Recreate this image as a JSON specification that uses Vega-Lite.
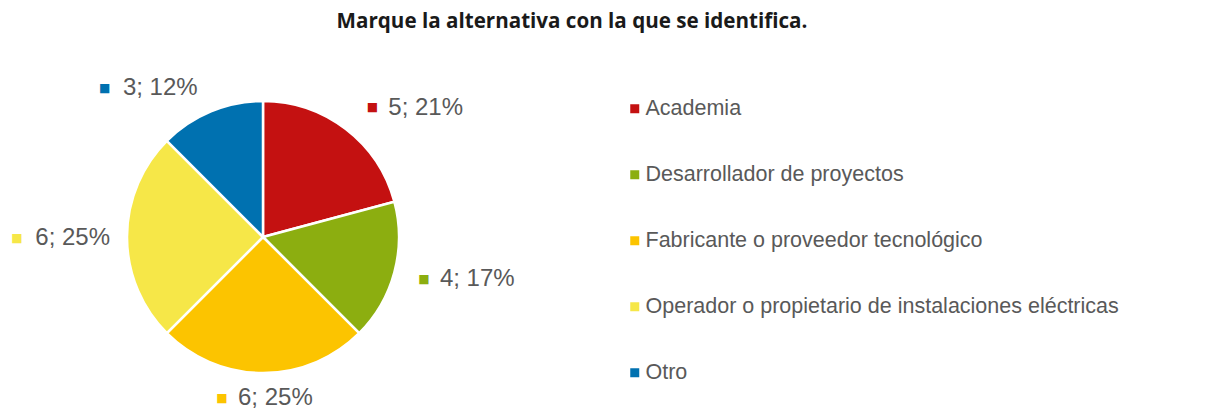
{
  "$schema": "https://vega.github.io/schema/vega-lite/v6.json",
  "autosize": "none",
  "width": 526,
  "height": 274,
  "padding": {"left": 0, "top": 100, "right": 683, "bottom": 38},
  "background": "white",
  "title": {
    "text": "Marque la alternativa con la que se identifica.",
    "font": "Open Sans",
    "fontSize": 20.6,
    "fontWeight": "bold",
    "color": "#1a1a1a",
    "anchor": "middle",
    "frame": "group",
    "baseline": "alphabetic",
    "offset": 28,
    "dx": 309
  },
  "data": {
    "values": [
      {"cat": "Academia", "n": 5, "label": "5; 21%"},
      {"cat": "Desarrollador de proyectos", "n": 4, "label": "4; 17%"},
      {"cat": "Fabricante o proveedor tecnológico", "n": 6, "label": "6; 25%"},
      {"cat": "Operador o propietario de instalaciones eléctricas", "n": 6, "label": "6; 25%"},
      {"cat": "Otro", "n": 3, "label": "3; 12%"}
    ]
  },
  "encoding": {
    "theta": {"field": "n", "type": "quantitative", "stack": true},
    "order": {"field": "cat", "type": "ordinal"},
    "color": {
      "field": "cat",
      "type": "nominal",
      "scale": {
        "domain": ["Academia", "Desarrollador de proyectos", "Fabricante o proveedor tecnológico", "Operador o propietario de instalaciones eléctricas", "Otro"],
        "range": ["#C41111", "#8CAE10", "#FCC400", "#F6E748", "#0071B0"]
      },
      "legend": {
        "orient": "none",
        "legendX": 624,
        "legendY": -2,
        "title": null,
        "symbolType": "square",
        "symbolSize": 81,
        "symbolStrokeWidth": 0,
        "labelFont": "Liberation Sans",
        "labelFontSize": 21.5,
        "labelColor": "#595959",
        "labelOffset": 0,
        "labelLimit": 0,
        "rowPadding": 43,
        "padding": 0
      }
    }
  },
  "layer": [
    {"mark": {"type": "arc", "outerRadius": 136, "stroke": "white", "strokeWidth": 2.5}},
    {
      "mark": {"type": "text", "radius": 150, "font": "DejaVu Sans", "fontSize": 12, "baseline": "middle", "align": "center", "dx": 18, "dy": -11},
      "encoding": {"text": {"condition": {"test": "datum.cat === 'Academia'", "value": "■"}, "value": ""}}
    },
    {
      "mark": {"type": "text", "radius": 150, "font": "Liberation Sans", "fontSize": 24, "baseline": "middle", "align": "left", "dx": 34, "dy": -10},
      "encoding": {"color": {"value": "#595959"}, "text": {"condition": {"test": "datum.cat === 'Academia'", "field": "label"}, "value": ""}}
    },
    {
      "mark": {"type": "text", "radius": 150, "font": "DejaVu Sans", "fontSize": 12, "baseline": "middle", "align": "center", "dx": 16, "dy": 3},
      "encoding": {"text": {"condition": {"test": "datum.cat === 'Desarrollador de proyectos'", "value": "■"}, "value": ""}}
    },
    {
      "mark": {"type": "text", "radius": 150, "font": "Liberation Sans", "fontSize": 24, "baseline": "middle", "align": "left", "dx": 32, "dy": 3},
      "encoding": {"color": {"value": "#595959"}, "text": {"condition": {"test": "datum.cat === 'Desarrollador de proyectos'", "field": "label"}, "value": ""}}
    },
    {
      "mark": {"type": "text", "radius": 150, "font": "DejaVu Sans", "fontSize": 12, "baseline": "middle", "align": "center", "dx": -41, "dy": 11},
      "encoding": {"text": {"condition": {"test": "datum.cat === 'Fabricante o proveedor tecnológico'", "value": "■"}, "value": ""}}
    },
    {
      "mark": {"type": "text", "radius": 150, "font": "Liberation Sans", "fontSize": 24, "baseline": "middle", "align": "left", "dx": -25, "dy": 11},
      "encoding": {"color": {"value": "#595959"}, "text": {"condition": {"test": "datum.cat === 'Fabricante o proveedor tecnológico'", "field": "label"}, "value": ""}}
    },
    {
      "mark": {"type": "text", "radius": 150, "font": "DejaVu Sans", "fontSize": 12, "baseline": "middle", "align": "center", "dx": -96, "dy": 1},
      "encoding": {"text": {"condition": {"test": "datum.cat === 'Operador o propietario de instalaciones eléctricas'", "value": "■"}, "value": ""}}
    },
    {
      "mark": {"type": "text", "radius": 150, "font": "Liberation Sans", "fontSize": 24, "baseline": "middle", "align": "right", "dx": -3, "dy": 1},
      "encoding": {"color": {"value": "#595959"}, "text": {"condition": {"test": "datum.cat === 'Operador o propietario de instalaciones eléctricas'", "field": "label"}, "value": ""}}
    },
    {
      "mark": {"type": "text", "radius": 150, "font": "DejaVu Sans", "fontSize": 12, "baseline": "middle", "align": "center", "dx": -101, "dy": -10},
      "encoding": {"text": {"condition": {"test": "datum.cat === 'Otro'", "value": "■"}, "value": ""}}
    },
    {
      "mark": {"type": "text", "radius": 150, "font": "Liberation Sans", "fontSize": 24, "baseline": "middle", "align": "right", "dx": -8, "dy": -10},
      "encoding": {"color": {"value": "#595959"}, "text": {"condition": {"test": "datum.cat === 'Otro'", "field": "label"}, "value": ""}}
    }
  ]
}
